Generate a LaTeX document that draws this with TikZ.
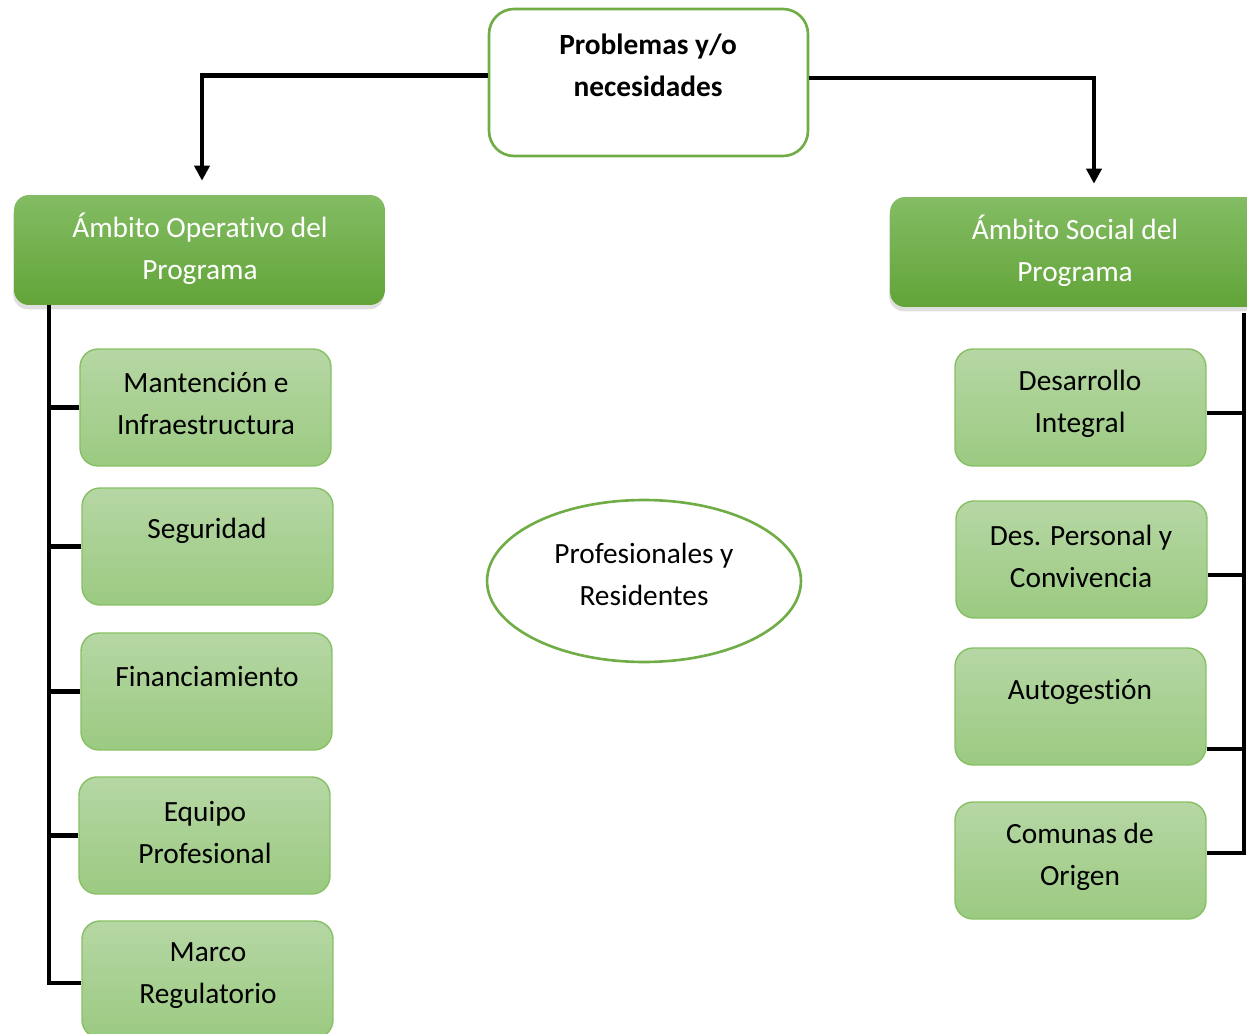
\documentclass[tikz,border=0pt]{standalone}
\usepackage{fontspec}
\setmainfont[Ligatures=NoCommon]{Carlito}
\usepackage{tikz}
\usetikzlibrary{positioning, arrows.meta, shapes.geometric, shadows}

\definecolor{frame}{RGB}{112,173,71}
\definecolor{headtop}{RGB}{131,188,100}
\definecolor{headbot}{RGB}{98,164,56}
\definecolor{itemtop}{RGB}{182,215,164}
\definecolor{itembot}{RGB}{155,202,129}
\definecolor{itemline}{RGB}{135,192,100}

\begin{document}
\begin{tikzpicture}[x=0.02cm, y=-0.02cm,
    topbox/.style={rectangle, draw=frame, line width=1.5pt, rounded corners=0.5cm,
                   minimum width=6.38cm, minimum height=2.94cm, fill=white},
    head/.style={rectangle, rounded corners=0.3cm, minimum width=7.42cm, minimum height=2.2cm,
                 top color=headtop, bottom color=headbot,
                 drop shadow={shadow xshift=-0.5pt, shadow yshift=-2.5pt, opacity=0.25}},
    item/.style={rectangle, draw=itemline, line width=0.8pt, rounded corners=0.36cm,
                 minimum width=5.02cm, minimum height=2.34cm,
                 top color=itemtop, bottom color=itembot},
    oval/.style={ellipse, draw=frame, line width=1.5pt, fill=white,
                 minimum width=6.28cm, minimum height=3.24cm},
    txt/.style={font=\fontsize{16.7}{23.9}\selectfont, align=center, inner sep=0pt},
    line/.style={line width=2.3pt},
    arrow/.style={line, -{Triangle[length=0.3cm, width=0.3cm]}}
]
    \useasboundingbox (0,0) rectangle (1247,1034);

    % Top box
    \node[topbox] (prob) at (648.5,82.5) {};
    \node[txt, font=\fontsize{16.7}{23.9}\selectfont\bfseries] (probTxt) at (648,65.5) {Problemas y/o\\necesidades};

    % Headers
    \node[head] (opHead) at (199.5,250) {};
    \node[txt, white] (opTxt) at (200,248.5) {Ámbito Operativo del\\Programa};
    \node[head] (soHead) at (1075.5,252) {};
    \node[txt, white] (soTxt) at (1075,250.5) {Ámbito Social del\\Programa};

    % Left column
    \node[item] (b1) at (205.5,407.5) {};
    \node[txt] (b1Txt) at (206,404) {Mantención e\\Infraestructura};
    \node[item] (b2) at (207.5,546.5) {};
    \node[txt] (b2Txt) at (207,531) {Seguridad};
    \node[item] (b3) at (206.5,691.5) {};
    \node[txt] (b3Txt) at (207,677) {Financiamiento};
    \node[item] (b4) at (204.5,835.5) {};
    \node[txt] (b4Txt) at (205,832.5) {Equipo\\Profesional};
    \node[item] (b5) at (207.5,979.5) {};
    \node[txt] (b5Txt) at (208,976) {Marco\\Regulatorio};

    % Right column
    \node[item] (r1) at (1080.5,407.5) {};
    \node[txt] (r1Txt) at (1080,404) {Desarrollo\\Integral};
    \node[item] (r2) at (1081.5,559.5) {};
    \node[txt] (r2Txt) at (1081,556) {Des. Personal y\\Convivencia};
    \node[item] (r3) at (1080.5,706.5) {};
    \node[txt] (r3Txt) at (1080,692) {Autogestión};
    \node[item] (r4) at (1080.5,860.5) {};
    \node[txt] (r4Txt) at (1080,857) {Comunas de\\Origen};

    % Centre ellipse
    \node[oval] (prof) at (644,581) {};
    \node[txt] (profTxt) at (644,574.5) {Profesionales y\\Residentes};

    % Arrows from the top box
    \draw[arrow, shorten >=0.28cm] ([yshift=0.14cm]prob.west) -| ([xshift=0.05cm]opHead.north);
    \draw[arrow, shorten >=0.26cm] ([yshift=0.09cm]prob.east) -| ([xshift=0.37cm]soHead.north);

    % Left bracket
    \coordinate (opSpine) at (49,983);
    \draw[line] (opHead.south -| opSpine) -- (opSpine) -- (opSpine -| b5.west);
    \foreach \b in {b1, b2, b3, b4}
        \draw[line] (\b.west) -- (opSpine |- \b.west);

    % Right bracket
    \coordinate (soSpine) at (1244,853);
    \draw[line] ([yshift=-0.12cm]soHead.south -| soSpine) -- (soSpine) -- (soSpine -| r4.east);
    \foreach \b/\s in {r1/-0.11, r2/-0.31, r3/-0.85}
        \draw[line] ([yshift=\s cm]\b.east) -- ([yshift=\s cm]soSpine |- \b.east);

\end{tikzpicture}
\end{document}
